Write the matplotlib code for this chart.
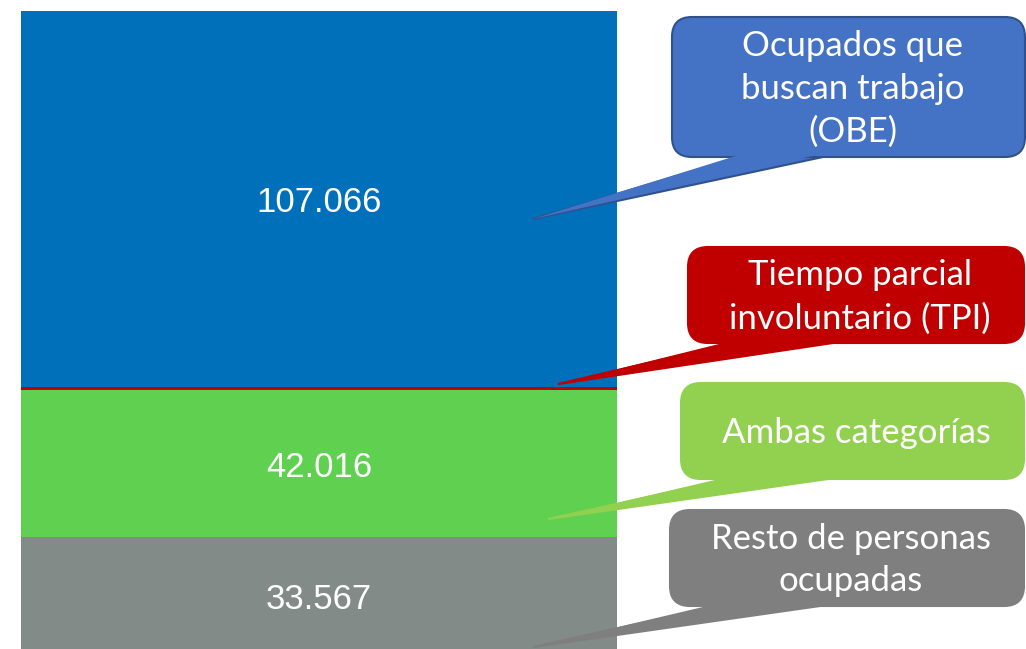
import matplotlib.pyplot as plt
from matplotlib.patches import FancyBboxPatch, Polygon

# stacked bar values (thousands of people)
segments = ["Resto de personas ocupadas", "Ambas categorías",
            "Tiempo parcial involuntario (TPI)", "Ocupados que buscan trabajo (OBE)"]
values = [33.567, 42.016, 0.9, 107.066]
value_labels = ["33.567", "42.016", "", "107.066"]
bar_colors = ["#838B88", "#5FD050", "#C00000", "#0070BA"]

# callout texts and colours
callout_texts = ["Ocupados que\nbuscan trabajo\n(OBE)",
                 "Tiempo parcial\ninvoluntario (TPI)",
                 "Ambas categorías",
                 "Resto de personas\nocupadas"]
callout_colors = ["#4472C4", "#C00000", "#92D050", "#7F7F7F"]
callout_edges = ["#2F528F", "#C00000", "#92D050", "#7F7F7F"]

fig = plt.figure(figsize=(10.26, 6.49), dpi=100)
ax = fig.add_axes([0, 0, 1, 1])

bottom = 0
for v, lab, c in zip(values, value_labels, bar_colors):
    ax.bar(0, v, width=1, bottom=bottom, color=c, linewidth=0)
    if lab:
        ax.text(0, bottom + v / 2, lab, ha="center", va="center_baseline", color="white",
                fontsize=25, family="Liberation Sans")
    bottom += v

ax.set_xlim(-0.5352, 1.1862)
ax.set_ylim(1.71, 186.68)
ax.axis("off")

# overlay in pixel units for the callouts
ov = fig.add_axes([0, 0, 1, 1], facecolor="none")
ov.set_xlim(0, 1026)
ov.set_ylim(649, 0)
ov.axis("off")

# box (x0, y0, x1, y1), wedge base (xa, xb), tip (x, y)
boxes = [(672, 17, 1025, 157), (688, 247, 1024, 343),
         (681, 383, 1024, 479), (670, 510, 1024, 606)]
bases = [(740, 823), (733, 833), (730, 828), (718, 820)]
tips = [(533, 219), (558, 384), (548, 519), (533, 647)]

for (x0, y0, x1, y1), (xa, xb), tip, txt, fc, ec in zip(
        boxes, bases, tips, callout_texts, callout_colors, callout_edges):
    ov.add_patch(Polygon([(xa, y1), (xb, y1), tip], closed=True, facecolor=fc,
                         edgecolor=ec, linewidth=1.5, zorder=1))
    ov.add_patch(FancyBboxPatch((x0, y0), x1 - x0, y1 - y0,
                                boxstyle="round,pad=0,rounding_size=20",
                                facecolor=fc, edgecolor=ec, linewidth=1.5, zorder=2))
    ov.add_patch(Polygon([(xa + 2, y1 - 3), (xb - 2, y1 - 3), tip], closed=True,
                         facecolor=fc, edgecolor="none", zorder=3))
    ov.text((x0 + x1) / 2 + 4, (y0 + y1) / 2 + 2, txt, ha="center", va="center",
            color="white", fontsize=25, family="Lato", linespacing=1.42, zorder=4)

fig.savefig("out.png", dpi=100)
